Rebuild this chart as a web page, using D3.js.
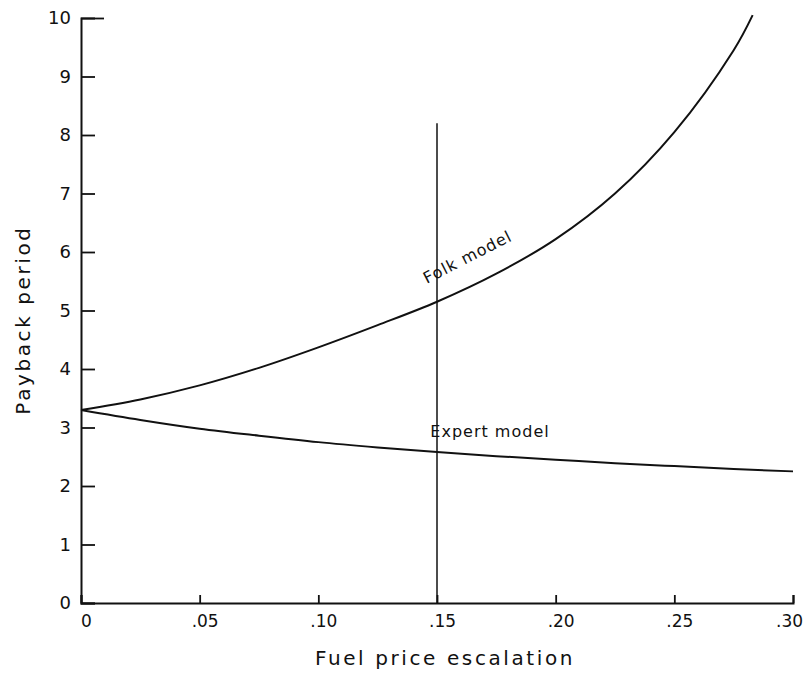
<!DOCTYPE html>
<html>
<head>
<meta charset="utf-8">
<script src="https://cdn.jsdelivr.net/npm/d3@7"></script>
<style>
  body { margin: 0; background: #fff; }
  text { font-family: "DejaVu Sans", sans-serif; fill: #111; }
</style>
</head>
<body>
<div id="chart"></div>
<script>
//width and height
var chart_width = 808;
var chart_height = 675;

// data
var escalation = [0, .025, .05, .075, .10, .125, .15, .175, .20, .225, .25, .275, .283];
var folk_values = [3.3, 3.48, 3.72, 4.02, 4.37, 4.75, 5.15, 5.63, 6.22, 7.0, 8.05, 9.45, 10.05];

var escalation_expert = [0, .025, .05, .075, .10, .125, .15, .175, .20, .225, .25, .275, .30];
var expert_values = [3.3, 3.13, 2.98, 2.86, 2.75, 2.66, 2.58, 2.51, 2.45, 2.39, 2.34, 2.29, 2.25];

var x_ticks = [0, .05, .10, .15, .20, .25, .30];
var x_tick_labels = ['0', '.05', '.10', '.15', '.20', '.25', '.30'];
var y_ticks = [0, 1, 2, 3, 4, 5, 6, 7, 8, 9, 10];

var marker_x = .15;
var marker_top = 8.2;

//scales
var x = d3.scaleLinear().domain([0, .30]).range([81, 793]);
var y = d3.scaleLinear().domain([0, 10]).range([603, 18]);

var svg = d3.select("#chart")
            .append("svg")
            .attr("width", chart_width)
            .attr("height", chart_height);

//axes
var y_axis = d3.axisLeft(y)
               .tickValues(y_ticks)
               .tickSize(-14)
               .tickPadding(10)
               .tickFormat(d3.format('d'));

var gy = svg.append('g')
    .attr('transform', 'translate(' + x(0) + ',0)')
    .call(y_axis);

var x_axis = d3.axisBottom(x)
               .tickValues(x_ticks)
               .tickSize(-8)
               .tickPadding(12)
               .tickFormat(function(d, i){ return x_tick_labels[i]; });

var gx = svg.append('g')
    .attr('transform', 'translate(0,' + y(0) + ')')
    .call(x_axis);

[gx, gy].forEach(function(g){
    g.select('.domain').attr('stroke', '#111').attr('stroke-width', 2);
    g.selectAll('.tick line').attr('stroke', '#111').attr('stroke-width', 1.8);
    g.selectAll('.tick text').style('font-size', '18px').attr('fill', '#111');
});
gx.selectAll('.tick text').style('font-size', '17px');

// top tick is a little longer
gy.selectAll('.tick')
  .filter(function(d){ return d === 10; })
  .select('line')
  .attr('x2', 23);

// x tick labels sit a bit right of the ticks, the last one stays inside
gx.selectAll('.tick text').attr('dx', function(d){ return d === .30 ? -4 : 5; });

//vertical marker
svg.append('line')
   .attr('x1', x(marker_x))
   .attr('x2', x(marker_x))
   .attr('y1', y(marker_top))
   .attr('y2', y(0))
   .attr('stroke', '#111')
   .attr('stroke-width', 1.5);

//curves
var line = d3.line()
             .x(function(d){ return x(d[0]); })
             .y(function(d){ return y(d[1]); })
             .curve(d3.curveCatmullRom.alpha(0.5));

svg.append('path')
   .datum(d3.zip(escalation, folk_values))
   .attr('d', line)
   .attr('fill', 'none')
   .attr('stroke', '#111')
   .attr('stroke-width', 2);

svg.append('path')
   .datum(d3.zip(escalation_expert, expert_values))
   .attr('d', line)
   .attr('fill', 'none')
   .attr('stroke', '#111')
   .attr('stroke-width', 2);

//labels
svg.append('text')
   .attr('transform', 'translate(470,262) rotate(-27)')
   .attr('text-anchor', 'middle')
   .style('font-size', '16px')
   .style('letter-spacing', '1px')
   .text('Folk model');

svg.append('text')
   .attr('x', 490)
   .attr('y', 437)
   .attr('text-anchor', 'middle')
   .style('font-size', '16px')
   .style('letter-spacing', '1px')
   .text('Expert model');

svg.append('text')
   .attr('x', 445)
   .attr('y', 665)
   .attr('text-anchor', 'middle')
   .style('font-size', '20px')
   .style('letter-spacing', '2.6px')
   .text('Fuel price escalation');

svg.append('text')
   .attr('transform', 'translate(30,320) rotate(-90)')
   .attr('text-anchor', 'middle')
   .style('font-size', '20px')
   .style('letter-spacing', '2.6px')
   .text('Payback period');
</script>
</body>
</html>
